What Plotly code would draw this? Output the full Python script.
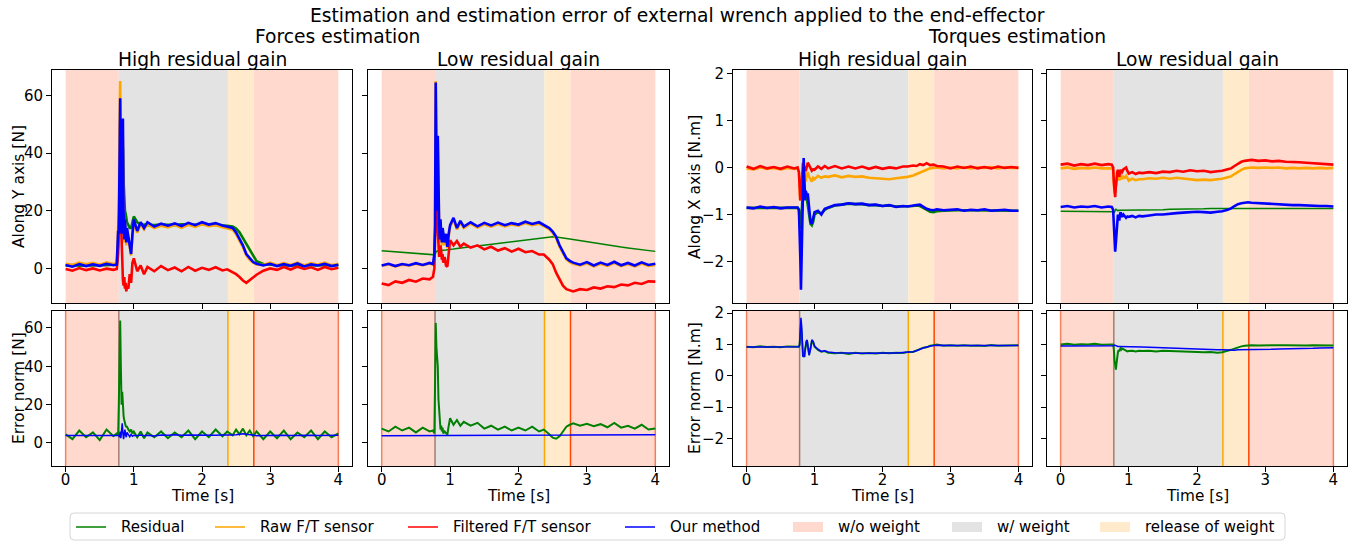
import plotly.graph_objects as go

W, H = 1354, 541

# ---------------- time grid (s) ----------------
t = [0.0, 0.1, 0.2, 0.3, 0.4, 0.5, 0.6, 0.7, 0.75,
     0.77, 0.78, 0.79, 0.80, 0.81, 0.82, 0.83, 0.84, 0.85, 0.86, 0.87, 0.88, 0.89, 0.90, 0.92, 0.94, 0.96, 0.98, 1.00,
     1.05, 1.10, 1.15, 1.20, 1.3, 1.4, 1.5, 1.6, 1.7, 1.8, 1.9, 2.0, 2.1, 2.2, 2.3, 2.37,
     2.45, 2.50, 2.55, 2.60, 2.65, 2.70, 2.75, 2.80,
     2.9, 3.0, 3.1, 3.2, 3.3, 3.4, 3.5, 3.6, 3.7, 3.8, 3.9, 4.0]

# ---------------- Forces, high residual gain (N) ----------------
F_hi_res = [1.0, 1.2, 0.9, 1.1, 1.0, 1.2, 1.1, 1.3, 1.4,
            8, 13, 30, 50, 45, 38, 40, 42, 30, 22, 20, 19, 17, 16, 15, 14, 14, 16, 18,
            16, 15, 15.2, 15, 15.0, 15.2, 15.1, 15.0, 15.3, 15.2, 15.1, 15.4, 15.3, 15.2, 15.0, 14.8,
            14.5, 13.8, 12.5, 10.5, 8.5, 6.0, 4.0, 2.5,
            1.5, 1.2, 1.1, 1.0, 1.0, 1.1, 1.0, 1.0, 1.1, 1.0, 1.0, 1.1]
F_hi_raw = [1.6, 1.2, 2.0, 1.4, 1.9, 1.3, 2.1, 1.5, 1.8,
            13, 20, 50, 65, 35, 15, 22, 45, 18, 9, 16, 11, 8, 13, 10, 6, 4.5, 11, 16,
            12.4, 15.3, 13.5, 15.3, 14.0, 14.8, 14.2, 15.0, 14.1, 15.1, 14.4, 15.3, 14.6, 15.0, 14.3, 14.0,
            13.4, 11.9, 9.9, 7.4, 4.5, 3.0, 2.0, 1.4,
            1.2, 2.0, 1.1, 1.8, 1.2, 2.0, 1.0, 1.8, 1.3, 2.0, 1.1, 1.6]
F_hi_filt = [-0.2, -0.8, 0.1, -0.6, 0.0, -0.7, -0.1, -0.5, -0.2,
             5, 15, 24, 26, 18, 8, 0, -4, -6, -3, -7, -5, -8, -6, -7, -2, -5, 2, 3.5,
             -1, 1.0, -2, 0.5, -1.0, 0.8, -0.6, 0.3, -1.0, 0.5, -0.8, 0.2, -0.5, 0.4, -0.7, -0.3,
             -1.2, -2.0, -3.0, -4.2, -5.0, -4.0, -3.0, -2.2,
             -0.8, 0.0, -0.5, 0.5, -0.4, 0.6, -0.2, 0.4, -0.5, 0.5, -0.3, 0.2]
F_hi_ours = [1.2, 0.6, 1.5, 0.8, 1.4, 0.9, 1.6, 1.1, 1.3,
             13, 12, 40, 59, 30, 12, 25, 52, 20, 10, 17, 12, 9, 14, 11, 7, 5, 12, 17,
             13, 16, 14, 16, 14.5, 15.5, 14.8, 15.6, 14.7, 15.8, 15.0, 16.0, 15.2, 15.7, 14.9, 14.6,
             14.0, 12.5, 10.5, 8.0, 5.0, 3.5, 2.2, 1.6,
             1.0, 1.6, 0.8, 1.5, 0.9, 1.7, 0.7, 1.4, 1.0, 1.6, 0.8, 1.3]

# ---------------- Forces, low residual gain (N) ----------------
F_lo_res = [6.1, 5.9, 5.7, 5.5, 5.3, 5.1, 4.9, 4.7, 4.6,
            4.6, 4.7, 5.5, 6.0, 6.0, 6.0, 6.1, 6.1, 6.1, 6.2, 6.2, 6.2, 6.3, 6.3, 6.4, 6.4, 6.5, 6.5, 6.6,
            6.7, 6.9, 7.0, 7.2, 7.5, 7.8, 8.1, 8.4, 8.7, 9.0, 9.3, 9.6, 9.9, 10.2, 10.5, 10.7,
            10.9, 11.0, 10.9, 10.8, 10.6, 10.4, 10.2, 10.0,
            9.6, 9.2, 8.8, 8.5, 8.1, 7.8, 7.4, 7.1, 6.8, 6.5, 6.2, 5.9]
F_lo_raw = [0.9, 1.4, 0.7, 1.3, 1.0, 1.6, 1.1, 1.7, 1.3,
            4, 14, 65, 38, 19, 45, 24, 14, 9, 16, 11, 8, 13, 11, 8, 11, 7, 11, 14.5,
            17, 13.5, 16, 14, 15.5, 14.2, 15.3, 14.5, 15.4, 14.6, 15.2, 14.8, 15.7, 15.0, 15.5, 14.6,
            13.6, 12.3, 10.5, 7.5, 5.0, 3.1, 2.2, 1.6,
            1.0, 1.8, 0.7, 1.6, 0.9, 1.9, 0.8, 1.5, 0.7, 1.7, 0.9, 1.2]
F_lo_filt = [-5.2, -5.8, -4.5, -5.0, -4.0, -4.6, -3.5, -3.8, -2.9,
             0, 10, 20, 26.5, 18, 12, 8, 4, 6, 8, 6, 3, 5, 2, 4, 1, 0.6, 5, 9.8,
             8.0, 9.5, 7.5, 8.6, 7.2, 8.0, 6.6, 7.5, 6.2, 7.0, 5.8, 6.8, 5.6, 6.0, 4.8, 4.8,
             3.0, 1.5, -1.5, -4.0, -6.0, -7.2, -7.6, -8.0,
             -7.2, -7.5, -6.6, -7.0, -6.2, -6.5, -5.6, -5.9, -5.0, -5.4, -4.5, -4.6]
F_lo_ours = [1.0, 1.6, 0.8, 1.5, 1.1, 1.8, 1.2, 1.9, 1.5,
             5, 15, 64.5, 40, 20, 46, 25, 15, 10, 17, 12, 9, 14, 12, 9, 12, 7.5, 12, 15,
             17.5, 14.0, 16.5, 14.5, 16.0, 14.6, 15.8, 14.9, 15.9, 15.0, 15.7, 15.2, 16.2, 15.4, 16.0, 15.0,
             14.0, 12.8, 11.0, 8.0, 5.5, 3.5, 2.6, 2.0,
             1.3, 2.2, 1.0, 2.0, 1.2, 2.3, 1.1, 1.9, 1.0, 2.1, 1.2, 1.6]

# ---------------- Torques, high residual gain (N.m) ----------------
T_hi_res = [-0.86, -0.86, -0.86, -0.86, -0.86, -0.86, -0.86, -0.86, -0.86,
            -0.9, -1.1, -1.3, -1.25, -1.0, -0.6, -0.3, -0.2, -0.4, -0.6, -0.6, -0.6, -0.7, -0.7, -1.0, -1.2, -1.23, -1.15, -1.0,
            -0.95, -0.98, -0.9, -0.86, -0.81, -0.79, -0.77, -0.78, -0.78, -0.8, -0.8, -0.82, -0.81, -0.83, -0.83, -0.83,
            -0.82, -0.81, -0.82, -0.86, -0.9, -0.94, -0.95, -0.93,
            -0.92, -0.91, -0.91, -0.91, -0.91, -0.91, -0.91, -0.91, -0.92, -0.92, -0.92, -0.92]
T_hi_raw = [-0.02, -0.04, 0.0, -0.03, -0.01, -0.04, -0.01, -0.03, -0.02,
            -0.1, -0.4, -0.7, -0.65, -0.45, -0.3, -0.15, -0.2, -0.1, -0.2, -0.3, -0.2, -0.15, -0.1, -0.2, -0.25, -0.3, -0.22, -0.25,
            -0.18, -0.22, -0.19, -0.2, -0.17, -0.21, -0.18, -0.2, -0.19, -0.22, -0.23, -0.24, -0.25, -0.23, -0.22, -0.2,
            -0.17, -0.14, -0.1, -0.07, -0.04, -0.02, -0.01, 0.0,
            -0.02, 0.0, -0.02, 0.01, -0.02, 0.0, -0.01, 0.01, -0.02, 0.0, -0.01, -0.01]
T_hi_filt = [0.02, -0.03, 0.03, -0.02, 0.01, -0.03, 0.02, -0.02, 0.0,
             -0.1, -0.4, -0.7, -0.6, -0.3, -0.05, 0.1, 0.05, -0.05, 0.02, -0.08, -0.02, 0.08, 0.1, 0.05, 0.0, -0.07, -0.04, -0.05,
             0.02, -0.03, 0.03, -0.02, 0.03, -0.02, 0.02, -0.02, 0.02, -0.03, 0.01, -0.03, 0.0, -0.02, 0.02, 0.02,
             0.04, 0.03, 0.07, 0.05, 0.09, 0.05, 0.06, 0.03,
             0.02, -0.02, 0.02, -0.01, 0.02, -0.02, 0.01, -0.02, 0.02, -0.01, 0.01, -0.01]
T_hi_ours = [-0.85, -0.87, -0.83, -0.86, -0.84, -0.87, -0.85, -0.86, -0.85,
             -0.9, -1.3, -1.9, -2.6, -2.0, -1.0, -0.2, 0.2, -0.3, -0.7, -0.5, -0.55, -0.6, -0.55, -0.9, -1.15, -1.2, -1.1, -0.95,
             -0.92, -1.0, -0.88, -0.85, -0.80, -0.79, -0.76, -0.78, -0.77, -0.80, -0.79, -0.82, -0.80, -0.84, -0.82, -0.83,
             -0.82, -0.80, -0.79, -0.84, -0.88, -0.90, -0.91, -0.89,
             -0.91, -0.90, -0.89, -0.92, -0.90, -0.91, -0.89, -0.92, -0.91, -0.90, -0.92, -0.92]

# ---------------- Torques, low residual gain (N.m) ----------------
T_lo_res = [-0.93, -0.93, -0.93, -0.93, -0.93, -0.93, -0.93, -0.93, -0.93,
            -0.93, -0.94, -0.95, -0.92, -0.88, -0.9, -0.91, -0.92, -0.91, -0.91, -0.91, -0.91, -0.91, -0.91, -0.91, -0.91, -0.91, -0.91, -0.91,
            -0.91, -0.91, -0.91, -0.9, -0.9, -0.9, -0.9, -0.89, -0.89, -0.89, -0.88, -0.88, -0.88, -0.87, -0.87, -0.87,
            -0.87, -0.86, -0.86, -0.86, -0.86, -0.86, -0.86, -0.86,
            -0.86, -0.86, -0.86, -0.86, -0.86, -0.87, -0.87, -0.87, -0.87, -0.87, -0.87, -0.87]
T_lo_raw = [-0.02, 0.0, -0.03, -0.01, -0.02, 0.0, -0.02, -0.01, -0.02,
            -0.05, -0.3, -0.55, -0.5, -0.4, -0.3, -0.2, -0.12, -0.2, -0.28, -0.2, -0.15, -0.2, -0.25, -0.2, -0.22, -0.18, -0.25, -0.28,
            -0.24, -0.27, -0.25, -0.25, -0.23, -0.24, -0.22, -0.24, -0.22, -0.24, -0.25, -0.27, -0.26, -0.27, -0.25, -0.24,
            -0.21, -0.19, -0.14, -0.09, -0.05, -0.02, -0.01, 0.0,
            -0.01, 0.0, -0.01, 0.0, -0.02, -0.01, -0.02, -0.01, -0.02, -0.01, -0.02, -0.01]
T_lo_filt = [0.06, 0.08, 0.04, 0.07, 0.05, 0.08, 0.05, 0.07, 0.06,
             0.0, -0.3, -0.6, -0.63, -0.4, -0.2, -0.1, -0.05, -0.15, -0.2, -0.1, -0.05, -0.08, -0.1, -0.04, -0.02, 0.0, -0.08, -0.13,
             -0.1, -0.14, -0.11, -0.12, -0.1, -0.12, -0.09, -0.1, -0.07, -0.09, -0.06, -0.08, -0.07, -0.1, -0.08, -0.07,
             -0.04, -0.02, 0.03, 0.08, 0.12, 0.14, 0.15, 0.16,
             0.14, 0.15, 0.13, 0.14, 0.12, 0.12, 0.11, 0.10, 0.09, 0.08, 0.07, 0.06]
T_lo_ours = [-0.84, -0.82, -0.85, -0.83, -0.84, -0.82, -0.85, -0.83, -0.84,
             -0.9, -1.2, -1.55, -1.79, -1.6, -1.3, -1.15, -1.0, -1.05, -1.13, -1.0, -0.95, -1.02, -1.05, -1.0, -1.03, -1.07, -1.04, -1.05,
             -1.03, -1.06, -1.03, -1.04, -1.02, -1.0, -1.0, -0.98, -0.97, -0.96, -0.95, -0.94, -0.95, -0.96, -0.94, -0.93,
             -0.90, -0.87, -0.82, -0.78, -0.76, -0.75, -0.74, -0.75,
             -0.76, -0.77, -0.77, -0.78, -0.79, -0.80, -0.80, -0.81, -0.81, -0.82, -0.82, -0.83]

# ---------------- Error norms, forces (N) ----------------
EF_hi_res = [4.5, 2.0, 6.5, 3.0, 5.5, 1.5, 7.0, 3.5, 5.0,
             4.0, 20, 45, 63.8, 40, 20, 26.7, 18, 14, 12, 10, 9, 8.5, 8.5, 7, 6, 7, 5, 6,
             3, 6, 2.5, 5.5, 3, 6, 2.5, 5.5, 3.0, 6.5, 2.0, 6.0, 3.0, 7.0, 3.5, 6.0,
             4.0, 7.0, 4.5, 7.5, 4.0, 6.5, 3.5, 6.0,
             2.0, 6.0, 2.5, 6.5, 2.0, 5.5, 3.0, 6.5, 2.0, 6.0, 3.0, 5.0]
EF_hi_ours = [3.9, 3.9, 3.9, 3.9, 3.9, 3.9, 3.9, 3.9, 3.9,
              3.8, 4.0, 3.0, 6.0, 2.5, 8.0, 10.3, 5.0, 2.0, 5.0, 7.0, 4.0, 3.0, 5.5, 4.0, 3.2, 4.5, 3.5, 4.0,
              3.8, 4.1, 3.8, 4.0, 3.7, 4.1, 4.0, 4.3, 4.0, 4.2, 4.1, 4.2, 4.1, 4.0, 4.1, 4.0,
              4.2, 4.3, 4.5, 4.8, 4.5, 4.3, 4.0, 3.8,
              3.9, 4.0, 3.9, 4.0, 3.9, 4.0, 3.9, 4.0, 3.9, 4.0, 3.9, 4.0]
EF_lo_res = [7.5, 6.0, 8.5, 6.5, 8.0, 5.5, 8.0, 6.0, 6.5,
             5, 30, 62.6, 50, 44, 40, 22.8, 15, 10, 7, 9, 6, 8, 5, 6, 5, 4.3, 9, 12.9,
             9.5, 12, 9, 11, 9.0, 10.5, 7.5, 9.0, 7.0, 8.5, 6.5, 8.0, 6.5, 8.5, 6.0, 7.0,
             4.5, 2.8, 2.2, 3.5, 6.0, 8.5, 9.5, 10.3,
             9.0, 10.0, 8.8, 9.8, 8.2, 10.5, 8.0, 9.0, 7.5, 9.5, 7.0, 7.5]
EF_lo_ours = [3.8, 3.8, 3.8, 3.8, 3.8, 3.8, 3.8, 3.8, 3.8,
              3.8, 3.8, 3.9, 3.9, 3.9, 3.9, 3.9, 3.9, 3.9, 3.9, 3.9, 3.9, 3.9, 3.9, 3.9, 3.9, 3.9, 3.9, 3.9,
              3.9, 3.9, 3.9, 3.9, 4.0, 4.0, 4.0, 4.0, 4.0, 4.0, 4.0, 4.1, 4.1, 4.1, 4.1, 4.1,
              4.1, 4.1, 4.1, 4.1, 4.1, 4.1, 4.1, 4.2,
              4.2, 4.2, 4.2, 4.2, 4.2, 4.2, 4.2, 4.3, 4.3, 4.3, 4.3, 4.3]

# ---------------- Error norms, torques (N.m) ----------------
ET_hi_res = [0.93, 0.91, 0.94, 0.92, 0.93, 0.91, 0.94, 0.92, 0.93,
             0.93, 1.0, 1.25, 1.6, 1.4, 0.85, 0.62, 0.68, 0.6, 0.82, 1.0, 1.1, 1.12, 0.98, 0.68, 0.87, 1.1, 1.07, 0.93,
             0.83, 0.77, 0.79, 0.74, 0.72, 0.74, 0.70, 0.74, 0.71, 0.73, 0.71, 0.74, 0.72, 0.74, 0.73, 0.76,
             0.76, 0.81, 0.84, 0.90, 0.91, 0.96, 0.98, 1.00,
             0.96, 0.98, 0.96, 0.98, 0.96, 0.97, 0.95, 0.98, 0.96, 0.97, 0.96, 0.98]
ET_hi_ours = [0.92, 0.92, 0.92, 0.92, 0.92, 0.92, 0.92, 0.92, 0.92,
              0.93, 1.0, 1.3, 1.85, 1.6, 0.9, 0.6, 0.65, 0.6, 0.8, 1.0, 1.1, 1.15, 1.0, 0.65, 0.85, 1.15, 1.1, 0.95,
              0.85, 0.78, 0.8, 0.76, 0.74, 0.73, 0.72, 0.73, 0.72, 0.72, 0.73, 0.72, 0.73, 0.73, 0.74, 0.75,
              0.77, 0.80, 0.85, 0.89, 0.92, 0.95, 0.97, 0.98,
              0.97, 0.97, 0.97, 0.97, 0.97, 0.97, 0.97, 0.97, 0.97, 0.97, 0.97, 0.97]
ET_lo_res = [1.0, 1.02, 0.99, 1.01, 1.0, 1.02, 0.99, 1.01, 1.0,
             1.0, 0.85, 0.5, 0.25, 0.2, 0.4, 0.65, 0.75, 0.82, 0.78, 0.85, 0.88, 0.84, 0.87, 0.85, 0.82, 0.8, 0.78, 0.79,
             0.8, 0.78, 0.8, 0.79, 0.8, 0.78, 0.8, 0.79, 0.78, 0.78, 0.77, 0.76, 0.75, 0.76, 0.74, 0.75,
             0.79, 0.83, 0.87, 0.91, 0.94, 0.96, 0.97, 0.98,
             0.97, 0.98, 0.97, 0.98, 0.98, 0.97, 0.98, 0.97, 0.98, 0.98, 0.97, 0.97]
ET_lo_ours = [0.95, 0.95, 0.95, 0.95, 0.95, 0.95, 0.95, 0.95, 0.95,
              0.95, 0.96, 0.98, 0.97, 0.95, 0.94, 0.94, 0.94, 0.94, 0.94, 0.94, 0.94, 0.94, 0.94, 0.94, 0.93, 0.93, 0.93, 0.93,
              0.93, 0.92, 0.92, 0.92, 0.91, 0.90, 0.89, 0.88, 0.87, 0.86, 0.86, 0.85, 0.84, 0.84, 0.83, 0.83,
              0.82, 0.82, 0.82, 0.83, 0.83, 0.83, 0.83, 0.84,
              0.84, 0.85, 0.85, 0.86, 0.86, 0.87, 0.87, 0.88, 0.88, 0.89, 0.89, 0.90]

# ---------------- phases ----------------
span_start = [0.0, 0.78, 2.38, 2.76]
span_end = [0.78, 2.38, 2.76, 4.0]
span_kind = ["w/o weight", "w/ weight", "release of weight", "w/o weight"]
edge_t = [0.0, 0.78, 2.38, 2.76, 4.0]

x_ticks = [0, 1, 2, 3, 4]
force_ticks = [0, 20, 40, 60]
torque_ticks = [-2, -1, 0, 1, 2]

legend_names = ["Residual", "Raw F/T sensor", "Filtered F/T sensor", "Our method",
                "w/o weight", "w/ weight", "release of weight"]

# ---------------- styling ----------------
FONT = "DejaVu Sans"
C = {"Residual": "#008000", "Raw F/T sensor": "#FFA500",
     "Filtered F/T sensor": "#FF0000", "Our method": "#0000FF"}
SPAN_C = {"w/o weight": "#FFD9CE", "w/ weight": "#E3E3E3", "release of weight": "#FFEBCC"}
EDGE_C = ["#F5845E", "#A57C6E", "#FFA500", "#FF4500", "#F97A55"]

col_px = [(52, 352), (368, 669), (733, 1032), (1047, 1347)]
row_px = [(70, 303), (311, 466)]

panels = [
    (0, 0, [("Residual", F_hi_res), ("Raw F/T sensor", F_hi_raw), ("Filtered F/T sensor", F_hi_filt), ("Our method", F_hi_ours)]),
    (0, 1, [("Residual", F_lo_res), ("Raw F/T sensor", F_lo_raw), ("Filtered F/T sensor", F_lo_filt), ("Our method", F_lo_ours)]),
    (0, 2, [("Residual", T_hi_res), ("Raw F/T sensor", T_hi_raw), ("Filtered F/T sensor", T_hi_filt), ("Our method", T_hi_ours)]),
    (0, 3, [("Residual", T_lo_res), ("Raw F/T sensor", T_lo_raw), ("Filtered F/T sensor", T_lo_filt), ("Our method", T_lo_ours)]),
    (1, 0, [("Residual", EF_hi_res), ("Our method", EF_hi_ours)]),
    (1, 1, [("Residual", EF_lo_res), ("Our method", EF_lo_ours)]),
    (1, 2, [("Residual", ET_hi_res), ("Our method", ET_hi_ours)]),
    (1, 3, [("Residual", ET_lo_res), ("Our method", ET_lo_ours)]),
]

fig = go.Figure()
shapes = []
layout_axes = {}

for i, (r, c, series) in enumerate(panels, start=1):
    sfx = "" if i == 1 else str(i)
    xr, yr = "x" + sfx, "y" + sfx
    for name, vals in series:
        assert len(vals) == len(t), (name, i, len(vals))
        smooth = (r == 1 and name == "Our method") or (i == 2 and name == "Residual") or (i == 4 and name == "Residual")
        w = 1.5 if smooth else (2.6 if r == 0 else 2.0)
        fig.add_trace(go.Scatter(x=t, y=vals, mode="lines", line=dict(color=C[name], width=w),
                                 xaxis=xr, yaxis=yr, showlegend=False, hoverinfo="skip", name=name))
    for s0, s1, k in zip(span_start, span_end, span_kind):
        shapes.append(dict(type="rect", xref=xr, yref=yr + " domain", x0=s0, x1=s1, y0=0, y1=1,
                           fillcolor=SPAN_C[k], line=dict(width=0), layer="below"))
    if r == 1:
        for et, ec in zip(edge_t, EDGE_C):
            shapes.append(dict(type="line", xref=xr, yref=yr + " domain", x0=et, x1=et, y0=0, y1=1,
                               line=dict(color=ec, width=1.5), layer="below"))
    is_force = c < 2
    layout_axes["xaxis" + sfx] = dict(
        domain=[col_px[c][0] / W, col_px[c][1] / W], anchor=yr, range=[-0.2, 4.2], automargin=False,
        tickvals=x_ticks, showticklabels=(r == 1), ticks="outside", ticklen=5, tickcolor="black",
        ticklabelstandoff=-5,
        showline=True, mirror=True, linecolor="black", linewidth=1, showgrid=False, zeroline=False,
        tickfont=dict(family=FONT, size=15, color="black"))
    layout_axes["yaxis" + sfx] = dict(
        domain=[1 - row_px[r][1] / H, 1 - row_px[r][0] / H], anchor=xr, automargin=False,
        range=[-12, 68.8] if is_force else [-2.88, 2.07],
        tickvals=force_ticks if is_force else torque_ticks,
        showticklabels=(c in (0, 2)), ticks="outside", ticklen=5, tickcolor="black",
        showline=True, mirror=True, linecolor="black", linewidth=1, showgrid=False, zeroline=False,
        tickfont=dict(family=FONT, size=15, color="black"))

ann = []
def A(text, x, y, size, angle=0, xanchor="center"):
    ann.append(dict(text=text, x=x / W, y=1 - y / H, xref="paper", yref="paper", showarrow=False,
                    xanchor=xanchor, yanchor="middle", textangle=angle,
                    font=dict(family=FONT, size=size, color="black")))

A("Estimation and estimation error of external wrench applied to the end-effector", 677, 15, 18.7)
A("Forces estimation", 337, 37, 18.7)
A("Torques estimation", 1017, 37, 18.7)
for c, lab in zip(range(4), ["High residual gain", "Low residual gain", "High residual gain", "Low residual gain"]):
    A(lab, (col_px[c][0] + col_px[c][1]) / 2, 59, 18.7)
    A("Time [s]", (col_px[c][0] + col_px[c][1]) / 2, 496, 15.3)
A("Along Y axis [N]", 19, 187, 15.5, -90)
A("Error norm [N]", 19, 388, 15.5, -90)
A("Along X axis [N.m]", 695, 187, 15.5, -90)
A("Error norm [N.m]", 695, 388, 15.5, -90)

# ---------------- legend (drawn in paper space) ----------------
LX0, LX1, LY0, LY1 = 70, 1285, 513, 540
rr = 4
def px(x): return x / W
def py(y): return 1 - y / H
path = (f"M {px(LX0 + rr)} {py(LY0)} L {px(LX1 - rr)} {py(LY0)} Q {px(LX1)} {py(LY0)} {px(LX1)} {py(LY0 + rr)} "
        f"L {px(LX1)} {py(LY1 - rr)} Q {px(LX1)} {py(LY1)} {px(LX1 - rr)} {py(LY1)} "
        f"L {px(LX0 + rr)} {py(LY1)} Q {px(LX0)} {py(LY1)} {px(LX0)} {py(LY1 - rr)} "
        f"L {px(LX0)} {py(LY0 + rr)} Q {px(LX0)} {py(LY0)} {px(LX0 + rr)} {py(LY0)} Z")
shapes.append(dict(type="path", xref="paper", yref="paper", path=path, fillcolor="white",
                   line=dict(color="#d6d6d6", width=1)))
handle_x = [76, 215, 408, 625, 793, 952, 1100]
LYC = 527
for hx, name in zip(handle_x, legend_names):
    if name in C:
        shapes.append(dict(type="line", xref="paper", yref="paper", x0=px(hx), x1=px(hx + 30),
                           y0=py(LYC), y1=py(LYC), line=dict(color=C[name], width=1.5)))
    else:
        shapes.append(dict(type="rect", xref="paper", yref="paper", x0=px(hx), x1=px(hx + 30),
                           y0=py(LYC + 5), y1=py(LYC - 5), fillcolor=SPAN_C[name], line=dict(width=0)))
    A(name, hx + 43, LYC, 15, 0, "left")

fig.update_layout(
    width=W, height=H, margin=dict(l=0, r=0, t=0, b=0, autoexpand=False),
    paper_bgcolor="white", plot_bgcolor="white", showlegend=False,
    font=dict(family=FONT, size=15, color="black"),
    shapes=shapes, annotations=ann,
    **layout_axes,
)

fig.write_html("out.html", config={"displayModeBar": False},
               post_script="document.body.style.margin='0px';document.body.style.overflow='hidden';")
